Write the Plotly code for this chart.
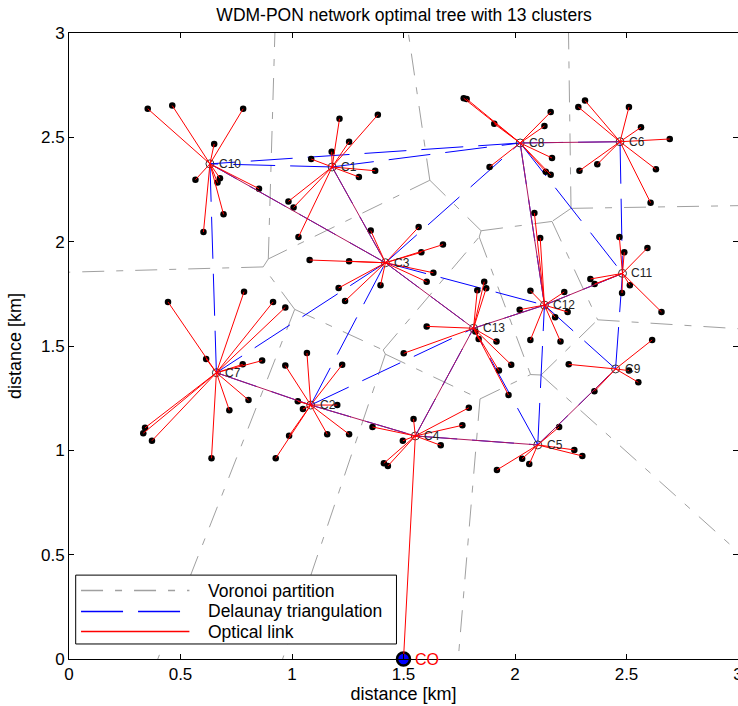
import plotly.graph_objects as go
import math

# ---------------- data ----------------
head_labels = ["C1", "C2", "C3", "C4", "C5", "C6", "C7", "C8", "C9", "C10", "C11", "C12", "C13"]
head_x = [1.180, 1.084, 1.419, 1.553, 2.102, 2.471, 0.661, 2.023, 2.451, 0.632, 2.482, 2.132, 1.814]
head_y = [2.358, 1.217, 1.899, 1.069, 1.026, 2.479, 1.372, 2.473, 1.390, 2.373, 1.848, 1.696, 1.585]

co_label = "CO"
co_x = 1.5
co_y = 0.0

# optical tree between CO and cluster heads
tree_from = ["CO", "C4", "C4", "C4", "C2", "C13", "C3", "C3", "C13", "C12", "C8", "C12", "C5"]
tree_to = ["C4", "C2", "C13", "C5", "C7", "C3", "C10", "C1", "C12", "C8", "C6", "C11", "C9"]

# ONUs (member points) and the cluster head each one is attached to
member_head = (["C10"] * 10 + ["C1"] * 10 + ["C8"] * 9 + ["C12"] * 9 + ["C6"] * 9 +
               ["C11"] * 8 + ["C9"] * 5 + ["C5"] * 6 + ["C13"] * 11 + ["C3"] * 11 +
               ["C7"] * 13 + ["C2"] * 10 + ["C4"] * 8)
member_x = [
    0.353, 0.463, 0.781, 0.651, 0.567, 0.677, 0.666, 0.852, 0.693, 0.603,
    1.086, 1.213, 1.385, 1.256, 1.178, 1.373, 1.300, 0.984, 1.007, 1.029,
    1.770, 1.783, 1.907, 1.886, 2.160, 2.132, 2.166, 2.138, 2.160,
    2.087, 2.113, 2.021, 2.069, 2.221, 2.236, 2.180, 2.069, 2.204,
    2.314, 2.284, 2.511, 2.565, 2.694, 2.289, 2.369, 2.632, 2.608,
    2.468, 2.594, 2.490, 2.338, 2.357, 2.515, 2.480, 2.657,
    2.615, 2.241, 2.511, 2.553, 2.356,
    2.198, 2.266, 2.302, 2.032, 2.064, 1.919,
    1.862, 1.831, 1.871, 1.604, 1.822, 1.837, 1.917, 1.501, 1.983, 1.928, 1.971,
    1.353, 1.568, 1.677, 1.580, 1.079, 1.256, 1.634, 1.604, 1.397, 1.209, 1.238,
    0.444, 0.785, 0.915, 0.970, 0.615, 0.779, 0.866, 0.805, 0.719, 0.341, 0.333, 0.372, 0.639,
    0.970, 1.067, 1.225, 1.026, 1.049, 1.203, 1.158, 1.256, 0.987, 0.927,
    1.361, 1.545, 1.793, 1.764, 1.497, 1.667, 1.412, 1.430,
]
member_y = [
    2.637, 2.652, 2.637, 2.468, 2.297, 2.304, 2.283, 2.254, 2.131, 2.046,
    2.396, 2.589, 2.608, 2.479, 2.431, 2.340, 2.310, 2.193, 2.164, 2.022,
    2.687, 2.684, 2.565, 2.358, 2.621, 2.554, 2.401, 2.335, 2.321,
    2.137, 2.018, 1.674, 1.765, 1.759, 1.663, 1.638, 1.529, 1.522,
    2.676, 2.645, 2.645, 2.548, 2.492, 2.340, 2.371, 2.347, 2.187,
    2.022, 1.970, 1.949, 1.821, 1.797, 1.791, 1.754, 1.663,
    1.529, 1.412, 1.382, 1.326, 1.283,
    1.112, 1.002, 0.973, 0.960, 0.934, 0.906,
    1.808, 1.767, 1.777, 1.594, 1.569, 1.534, 1.521, 1.465, 1.410, 1.382, 1.265,
    2.053, 2.070, 1.986, 1.949, 1.912, 1.906, 1.851, 1.808, 1.791, 1.778, 1.716,
    1.711, 1.760, 1.711, 1.685, 1.438, 1.412, 1.430, 1.241, 1.192, 1.108, 1.082, 1.046, 0.962,
    1.406, 1.466, 1.410, 1.235, 1.198, 1.217, 1.077, 1.077, 1.070, 0.962,
    1.112, 1.150, 1.204, 1.120, 1.046, 1.024, 0.938, 0.925,
]

legend_labels = ["Voronoi partition", "Delaunay triangulation", "Optical link"]
x_ticks = [0, 0.5, 1, 1.5, 2, 2.5, 3]
tick_text = ["0", "0.5", "1", "1.5", "2", "2.5", "3"]

# ---------------- geometry helpers (Delaunay / Voronoi of cluster heads) ----------------
def circum(p, q, r):
    ax, ay = p
    bx, by = q
    cx, cy = r
    d = 2 * (ax * (by - cy) + bx * (cy - ay) + cx * (ay - by))
    a2, b2, c2 = ax * ax + ay * ay, bx * bx + by * by, cx * cx + cy * cy
    ux = (a2 * (by - cy) + b2 * (cy - ay) + c2 * (ay - by)) / d
    uy = (a2 * (cx - bx) + b2 * (ax - cx) + c2 * (bx - ax)) / d
    return ux, uy, (ax - ux) ** 2 + (ay - uy) ** 2


def delaunay(points):
    n = len(points)
    pts = list(points) + [(-1e3, -1e3), (1e3, -1e3), (0.0, 1e3)]
    tris = [(n, n + 1, n + 2)]
    for i in range(n):
        px, py = pts[i]
        bad = []
        for t in tris:
            ux, uy, r2 = circum(pts[t[0]], pts[t[1]], pts[t[2]])
            if (px - ux) ** 2 + (py - uy) ** 2 < r2:
                bad.append(t)
        cnt = {}
        for t in bad:
            for e in ((t[0], t[1]), (t[1], t[2]), (t[2], t[0])):
                k = tuple(sorted(e))
                cnt[k] = cnt.get(k, 0) + 1
        tris = [t for t in tris if t not in bad]
        for k, c in cnt.items():
            if c == 1:
                tris.append((k[0], k[1], i))
    return [t for t in tris if max(t) < n]


heads = list(zip(head_x, head_y))
tris = delaunay(heads)

edge_tris = {}
for ti, t in enumerate(tris):
    for a, b, c in ((t[0], t[1], t[2]), (t[1], t[2], t[0]), (t[2], t[0], t[1])):
        edge_tris.setdefault(tuple(sorted((a, b))), []).append((ti, c))

cc = [circum(heads[t[0]], heads[t[1]], heads[t[2]])[:2] for t in tris]

del_x, del_y = [], []
vor_x, vor_y = [], []
for (a, b), lst in edge_tris.items():
    del_x += [head_x[a], head_x[b], None]
    del_y += [head_y[a], head_y[b], None]
    if len(lst) == 2:
        p, q = cc[lst[0][0]], cc[lst[1][0]]
        vor_x += [p[0], q[0], None]
        vor_y += [p[1], q[1], None]
    else:
        ti, k = lst[0]
        dx, dy = head_x[b] - head_x[a], head_y[b] - head_y[a]
        nx, ny = dy, -dx
        if nx * (head_x[k] - head_x[a]) + ny * (head_y[k] - head_y[a]) > 0:
            nx, ny = -nx, -ny
        ln = math.hypot(nx, ny)
        p = cc[ti]
        vor_x += [p[0], p[0] + 30 * nx / ln, None]
        vor_y += [p[1], p[1] + 30 * ny / ln, None]

del_set = set((head_labels[a], head_labels[b]) for (a, b) in edge_tris)

pos = {lab: (x, y) for lab, x, y in zip(head_labels, head_x, head_y)}
pos[co_label] = (co_x, co_y)

tree_purple_x, tree_purple_y, tree_red_x, tree_red_y = [], [], [], []
for f, t in zip(tree_from, tree_to):
    (x0, y0), (x1, y1) = pos[f], pos[t]
    if (f, t) in del_set or (t, f) in del_set:
        tree_purple_x += [x0, x1, None]
        tree_purple_y += [y0, y1, None]
    else:
        tree_red_x += [x0, x1, None]
        tree_red_y += [y0, y1, None]

link_x, link_y = [], []
for h, mx, my in zip(member_head, member_x, member_y):
    hx, hy = pos[h]
    link_x += [hx, mx, None]
    link_y += [hy, my, None]

# ---------------- figure ----------------
VOR_DASH = "22px,12px,7px,12px"
DEL_DASH = "42px,15px"
FONT = "Arial, Liberation Sans, sans-serif"

fig = go.Figure()
fig.add_trace(go.Scatter(x=vor_x, y=vor_y, mode="lines", showlegend=False, hoverinfo="skip",
                         line=dict(color="#a0a0a0", width=1, dash=VOR_DASH)))
fig.add_trace(go.Scatter(x=del_x, y=del_y, mode="lines", showlegend=False, hoverinfo="skip",
                         line=dict(color="#0000ff", width=1, dash=DEL_DASH)))
fig.add_trace(go.Scatter(x=member_x, y=member_y, mode="markers", showlegend=False,
                         marker=dict(color="black", size=6.5)))
fig.add_trace(go.Scatter(x=head_x, y=head_y, mode="markers", showlegend=False,
                         marker=dict(symbol="circle-open", color="#333333", size=8,
                                     line=dict(width=1))))
fig.add_trace(go.Scatter(x=[co_x], y=[co_y], mode="markers", showlegend=False, cliponaxis=False,
                         marker=dict(color="#0000ff", size=13, line=dict(color="black", width=2.5))))
fig.add_trace(go.Scatter(x=tree_purple_x, y=tree_purple_y, mode="lines", showlegend=False,
                         hoverinfo="skip", line=dict(color="#b0185e", width=1)))
fig.add_trace(go.Scatter(x=tree_red_x, y=tree_red_y, mode="lines", showlegend=False,
                         hoverinfo="skip", line=dict(color="#ff0000", width=1)))
fig.add_trace(go.Scatter(x=link_x, y=link_y, mode="lines", showlegend=False,
                         hoverinfo="skip", line=dict(color="#ff0000", width=1)))

annotations = []
for lab, x, y in zip(head_labels, head_x, head_y):
    annotations.append(dict(x=x, y=y, text=lab, showarrow=False, xanchor="left", yanchor="middle",
                            xshift=7, font=dict(family=FONT, size=12, color="#222222")))
annotations.append(dict(x=co_x, y=co_y, text=co_label, showarrow=False, xanchor="left",
                        yanchor="middle", xshift=9, font=dict(family=FONT, size=16, color="#ff0000")))

fig.update_layout(template="none")

# manual legend (long line samples as in the original)
leg_rows_y = [0.1094, 0.0759, 0.0439]
leg_colors = ["#a0a0a0", "#0000ff", "#ff0000"]
leg_dashes = [VOR_DASH, DEL_DASH, "solid"]
fig.add_shape(type="rect", xref="paper", yref="paper", x0=0.010, x1=0.4895, y0=0.024, y1=0.134,
              fillcolor="white", line_color="black", line_width=1, layer="above")
for ly, col, dsh, lab in zip(leg_rows_y, leg_colors, leg_dashes, legend_labels):
    fig.add_shape(type="line", xref="paper", yref="paper", x0=0.018, x1=0.180, y0=ly, y1=ly,
                  line_color=col, line_width=1.6, line_dash=dsh, layer="above")
    annotations.append(dict(xref="paper", yref="paper", x=0.2043, y=ly, text=lab, showarrow=False,
                            xanchor="left", yanchor="middle",
                            font=dict(family=FONT, size=17.5, color="black")))

axis_common = dict(range=[0, 3], tickvals=x_ticks, ticktext=tick_text, ticks="inside", ticklen=5,
                   tickcolor="black", showline=True, linecolor="black", linewidth=1, mirror="ticks",
                   showgrid=False, zeroline=False, tickfont=dict(family=FONT, size=17, color="black"),
                   fixedrange=True, automargin=False, ticklabeloverflow="allow")

fig.update_layout(
    width=738, height=706,
    margin=dict(l=69, r=0, t=33, b=47, autoexpand=False),
    paper_bgcolor="white", plot_bgcolor="white",
    title=dict(text="WDM-PON network optimal tree with 13 clusters", x=0.5475, xanchor="center",
               y=1 - 15 / 706, yanchor="middle", font=dict(family=FONT, size=17.5, color="black")),
    xaxis=dict(axis_common, title=dict(text="distance [km]", standoff=3,
                                       font=dict(family=FONT, size=18, color="black"))),
    yaxis=dict(axis_common, title=dict(text="distance [km]", standoff=14,
                                       font=dict(family=FONT, size=18, color="black"))),
    annotations=annotations,
    showlegend=False,
)

fig.write_html("out.html", config={"displayModeBar": False},
               post_script="document.body.style.margin='0px';document.body.style.padding='0px';")
